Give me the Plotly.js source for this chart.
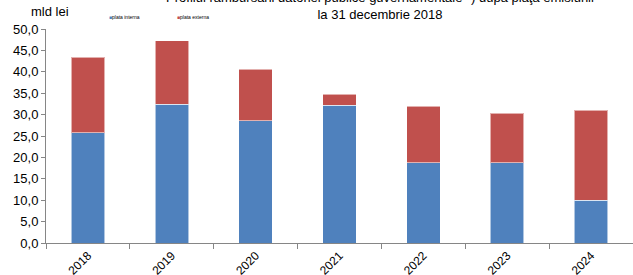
<!DOCTYPE html>
<html>
<head>
<meta charset="utf-8">
<script src="https://cdn.plot.ly/plotly-3.0.1.min.js"></script>
<style>html,body{margin:0;padding:0;background:#fff;}#chart{width:633px;height:275px;}</style>
</head>
<body>
<div id="chart"></div>
<script>
const years = ['2018', '2019', '2020', '2021', '2022', '2023', '2024'];
const plataInterna = [25.8, 32.4, 28.6, 32.2, 18.8, 18.7, 10.0];
const plataExterna = [17.6, 14.8, 12.0, 2.6, 13.1, 11.6, 21.0];
const seriesNames = ['plata interna', 'plata externa'];
const seriesColors = ['#4F81BD', '#C0504D'];
const yTicks = [0, 5, 10, 15, 20, 25, 30, 35, 40, 45, 50];

const traces = [plataInterna, plataExterna].map((vals, i) => ({
  type: 'bar',
  x: years,
  y: vals,
  name: seriesNames[i],
  marker: {color: seriesColors[i], line: {color: 'rgba(255,255,255,0.55)', width: 1}},
  hoverinfo: 'x+y+name'
}));

const legendAnn = seriesNames.map((n, i) => ({
  xref: 'paper', yref: 'paper',
  x: (107 + i * 68 - 46) / 587, y: (243 - 17) / 214,
  xanchor: 'left', yanchor: 'middle',
  showarrow: false,
  text: '<span style="color:' + seriesColors[i] + '">■</span>' + n,
  font: {family: 'Arial, Liberation Sans, sans-serif', size: 5, color: '#000'}
}));

const layout = {
  width: 633, height: 275,
  margin: {l: 46, r: 0, t: 29, b: 32},
  paper_bgcolor: '#fff', plot_bgcolor: '#fff',
  separators: ',.',
  barmode: 'stack',
  bargap: 0.6,
  showlegend: false,
  font: {family: 'Arial, Liberation Sans, sans-serif', color: '#000', size: 13},
  title: {
    text: 'Profilul rambursării datoriei publice guvernamentale *) după piaţa emisiunii<br>la 31 decembrie 2018',
    xref: 'container', yref: 'container',
    x: 380 / 633, xanchor: 'center',
    y: 1 - 2 / 275, yanchor: 'bottom',
    font: {family: 'Arial, Liberation Sans, sans-serif', size: 13, color: '#000'}
  },
  xaxis: {
    type: 'category',
    showline: true, linecolor: '#868686', linewidth: 1,
    ticks: 'outside', tickson: 'boundaries', ticklen: 5, tickcolor: '#868686',
    tickangle: -45,
    tickfont: {size: 12, color: '#000'},
    showgrid: false, zeroline: false
  },
  yaxis: {
    range: [0, 50],
    tickvals: yTicks,
    tickformat: '.1f',
    showline: true, linecolor: '#868686', linewidth: 1,
    ticks: 'outside', ticklen: 4, tickcolor: '#868686',
    tickfont: {size: 13, color: '#000'},
    showgrid: false, zeroline: false
  },
  annotations: [
    {xref: 'paper', yref: 'paper', x: 4 / 587, y: (243 - 11) / 214,
     xanchor: 'center', yanchor: 'middle', showarrow: false,
     text: 'mld lei', font: {size: 13, color: '#000'}}
  ].concat(legendAnn)
};

Plotly.newPlot('chart', traces, layout, {displayModeBar: false, responsive: false});
</script>
</body>
</html>
